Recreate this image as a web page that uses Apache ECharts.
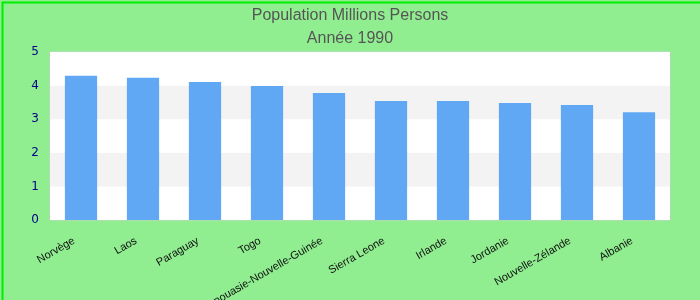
<!DOCTYPE html>
<html>
<head>
<meta charset="utf-8">
<script src="https://cdn.jsdelivr.net/npm/echarts@6/dist/echarts.min.js"></script>
<style>
html,body{margin:0;padding:0;background:#90ee90;}
#chart{width:700px;height:300px;}
</style>
</head>
<body>
<div id="chart"></div>
<script>
// données
var pays = ['Norvège','Laos','Paraguay','Togo','Papouasie-Nouvelle-Guinée','Sierra Leone','Irlande','Jordanie','Nouvelle-Zélande','Albanie'];
var population = [4.29, 4.23, 4.11, 3.99, 3.78, 3.54, 3.54, 3.48, 3.42, 3.21];
var titre = 'Population Millions Persons';
var sousTitre = 'Année 1990';

var myChart = echarts.init(document.getElementById('chart'));
var option = {
	backgroundColor: '#90ee90',
	animation: false,
	graphic: [{
		type: 'rect',
		left: 0, top: 0,
		z: 100,
		shape: {width: 699, height: 299},
		style: {fill: 'none', stroke: '#00ee00', lineWidth: 2},
		silent: true
	}],
	title: [{
		text: titre,
		left: 'center',
		top: 3,
		textStyle: {fontFamily: 'Liberation Sans', fontSize: 16, fontWeight: 'normal', color: '#555'}
	}, {
		text: sousTitre,
		left: 'center',
		top: 26,
		textStyle: {fontFamily: 'Liberation Sans', fontSize: 16, fontWeight: 'normal', color: '#555'}
	}],
	grid: {
		left: 50,
		right: 30,
		top: 52,
		bottom: 80,
		containLabel: false,
		outerBoundsMode: 'none',
		show: true,
		borderColor: '#ccc',
		borderWidth: 1,
		backgroundColor: '#fff'
	},
	xAxis: {
		type: 'category',
		data: pays,
		axisLine: {show: false},
		axisTick: {show: false},
		axisLabel: {
			interval: 0,
			rotate: 30,
			margin: 16,
			padding: [0, 8, 0, 0],
			color: '#111',
			fontFamily: 'Liberation Sans',
			fontSize: 11
		}
	},
	yAxis: {
		type: 'value',
		min: 0,
		max: 5,
		interval: 1,
		axisLine: {show: false},
		axisTick: {show: false},
		splitLine: {show: false},
		splitArea: {show: true, areaStyle: {color: ['#ffffff', '#f3f3f3']}},
		axisLabel: {
			color: '#00008b',
			fontFamily: 'DejaVu Sans',
			fontSize: 12,
			margin: 11
		}
	},
	series: [{
		type: 'bar',
		data: population,
		barWidth: '52%',
		itemStyle: {color: '#61a8f4'}
	}]
};
myChart.setOption(option);
</script>
</body>
</html>
